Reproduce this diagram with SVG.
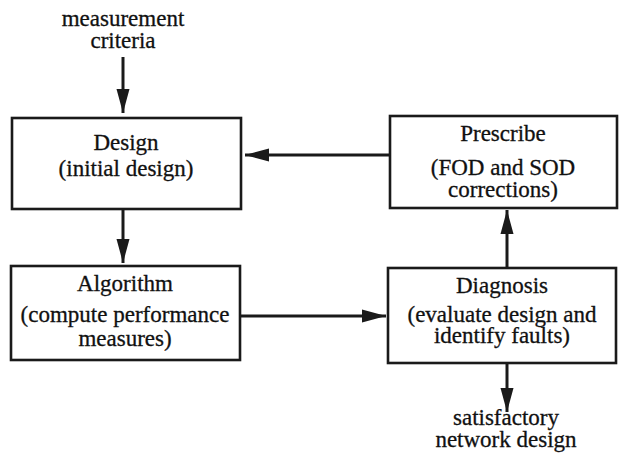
<svg xmlns="http://www.w3.org/2000/svg" width="625" height="453" viewBox="0 0 625 453">
<style>
.box{fill:#fff;stroke:#1a1a1a;stroke-width:2.6}
.t{font-family:'Liberation Serif','Times New Roman',Times,serif;font-size:23px;fill:#111;stroke:#111;stroke-width:0.3;text-anchor:middle}
.c{stroke:#1a1a1a;stroke-width:3;fill:none;marker-end:url(#ah)}
</style>
<defs>
<marker id="ah" markerUnits="userSpaceOnUse" markerWidth="24" markerHeight="14" refX="24" refY="7" orient="auto">
<path d="M0,0.5 L24,7 L0,13.5 z" fill="#1a1a1a"/>
</marker>
</defs>
<rect width="625" height="453" fill="#fff"/>
<g id="connectors">
<line class="c" x1="123" y1="57" x2="123" y2="113"/>
<line class="c" x1="123" y1="209" x2="123" y2="263"/>
<line class="c" x1="390" y1="155" x2="245" y2="155"/>
<line class="c" x1="241" y1="316" x2="386" y2="316"/>
<line class="c" x1="507" y1="268" x2="507" y2="210"/>
<line class="c" x1="507" y1="363" x2="507" y2="412"/>
</g>
<g id="measurement-criteria">
<text class="t" x="123" y="26">measurement</text>
<text class="t" x="123" y="48">criteria</text>
</g>
<g id="design">
<rect class="box" x="12" y="118" width="229" height="91"/>
<text class="t" x="126" y="150">Design</text>
<text class="t" x="126" y="176">(initial design)</text>
</g>
<g id="prescribe">
<rect class="box" x="390" y="116" width="227" height="92"/>
<text class="t" x="503" y="141">Prescribe</text>
<text class="t" x="503" y="175">(FOD and SOD</text>
<text class="t" x="503" y="197">corrections)</text>
</g>
<g id="algorithm">
<rect class="box" x="11" y="266" width="229" height="94"/>
<text class="t" x="125" y="291">Algorithm</text>
<text class="t" x="125" y="322">(compute performance</text>
<text class="t" x="125" y="346">measures)</text>
</g>
<g id="diagnosis">
<rect class="box" x="388" y="268" width="228" height="95"/>
<text class="t" x="502" y="293">Diagnosis</text>
<text class="t" x="502" y="322">(evaluate design and</text>
<text class="t" x="502" y="343">identify faults)</text>
</g>
<g id="satisfactory">
<text class="t" x="506" y="425">satisfactory</text>
<text class="t" x="506" y="447">network design</text>
</g>
</svg>
